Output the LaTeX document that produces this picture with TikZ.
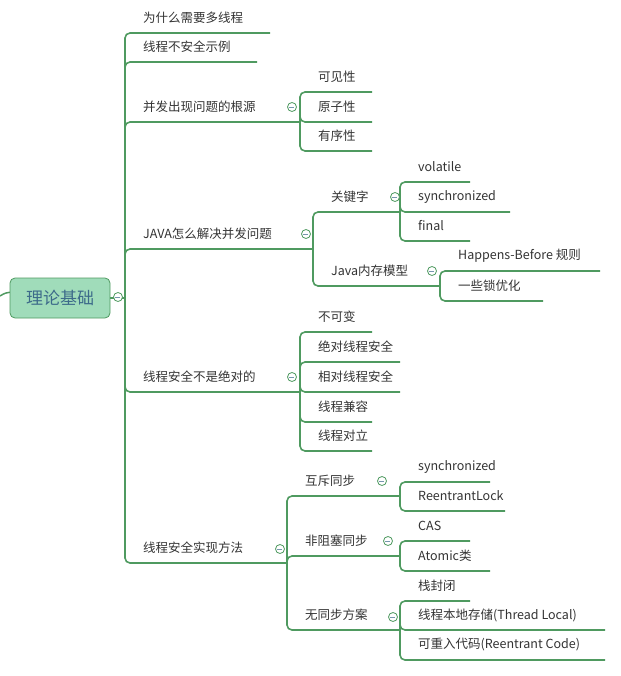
\documentclass[tikz,border=0pt]{standalone}
\usepackage{fontspec}
\setmainfont{Noto Sans CJK SC}
\begin{document}
\definecolor{ln}{HTML}{4F9A60}
\definecolor{tx}{HTML}{333333}
\definecolor{rf}{HTML}{A0DCBA}
\definecolor{rt}{HTML}{3D6B8A}
\newcommand\mmbr[6]{% gx, py, cy, ex, text, name
  \draw[ln,line width=1.6pt,rounded corners=5pt] (#1,#2) |- (#4,#3);
  \node[lbl] (#6) at (#1+18,#3-15) {#5};}
\newcommand\mmcol[3]{\node[col] (#3) at (#1,#2) {};
  \draw[rt!70,line width=0.7pt] (#3.west)++(1.8pt,0) -- ++(5.4pt,0);}
\begin{tikzpicture}[x=1pt,y=-1pt,
  lbl/.style={anchor=west,inner sep=0pt,text=tx,font=\fontsize{12.5}{14}\selectfont},
  col/.style={circle,draw=ln,fill=white,line width=0.8pt,minimum size=9pt,inner sep=0pt}]
\useasboundingbox (0,0) rectangle (620,676);
% root
\draw[ln,line width=1.5pt] (0,296) .. controls (5,293) .. (12,292);
\draw[ln,line width=1.6pt] (110,298) -- (125,298);
\node[draw=ln,fill=rf,line width=0.8pt,rounded corners=5pt,minimum width=100pt,minimum height=40pt,text=rt,font=\fontsize{17}{20}\selectfont] (root) at (60,298) {理论基础};
% level 1
\mmbr{125}{298}{33}{270}{为什么需要多线程}{a1}
\mmbr{125}{298}{62}{257}{线程不安全示例}{a2}
\mmbr{125}{298}{122}{300}{并发出现问题的根源}{a3}
\mmbr{125}{298}{249}{313}{JAVA怎么解决并发问题}{a4}
\mmbr{125}{298}{392}{300}{线程安全不是绝对的}{a5}
\mmbr{125}{298}{563}{287}{线程安全实现方法}{a6}
% a3
\mmbr{300}{122}{92}{372}{可见性}{b1}
\mmbr{300}{122}{122}{372}{原子性}{b2}
\mmbr{300}{122}{151}{372}{有序性}{b3}
% a4
\mmbr{313}{249}{212}{400}{关键字}{c1}
\mmbr{313}{249}{286}{440}{Java内存模型}{c2}
\mmbr{400}{212}{182}{470}{volatile}{d1}
\mmbr{400}{212}{212}{510}{synchronized}{d2}
\mmbr{400}{212}{241}{470}{final}{d3}
\mmbr{440}{286}{271}{600}{Happens-Before 规则}{e1}
\mmbr{440}{286}{301}{543}{一些锁优化}{e2}
% a5
\mmbr{300}{392}{332}{372}{不可变}{f1}
\mmbr{300}{392}{362}{400}{绝对线程安全}{f2}
\mmbr{300}{392}{392}{400}{相对线程安全}{f3}
\mmbr{300}{392}{422}{372}{线程兼容}{f4}
\mmbr{300}{392}{451}{372}{线程对立}{f5}
% a6
\mmbr{287}{563}{496}{400}{互斥同步}{g1}
\mmbr{287}{563}{556}{400}{非阻塞同步}{g2}
\mmbr{287}{563}{630}{400}{无同步方案}{g3}
\mmbr{400}{496}{482}{490}{synchronized}{h1}
\mmbr{400}{496}{511}{505}{ReentrantLock}{h2}
\mmbr{400}{556}{541}{470}{CAS}{i1}
\mmbr{400}{556}{571}{490}{Atomic类}{i2}
\mmbr{400}{630}{601}{470}{栈封闭}{j1}
\mmbr{400}{630}{630}{605}{线程本地存储(Thread Local)}{j2}
\mmbr{400}{630}{660}{605}{可重入代码(Reentrant Code)}{j3}
% collapse markers
\mmcol{118}{297}{k0}
\mmcol{292}{107}{k1}
\mmcol{306}{234}{k2}
\mmcol{395}{197}{k3}
\mmcol{432}{271}{k4}
\mmcol{292}{377}{k5}
\mmcol{280}{549}{k6}
\mmcol{382}{481}{k7}
\mmcol{388}{541}{k8}
\mmcol{393}{617}{k9}
\end{tikzpicture}
\end{document}
